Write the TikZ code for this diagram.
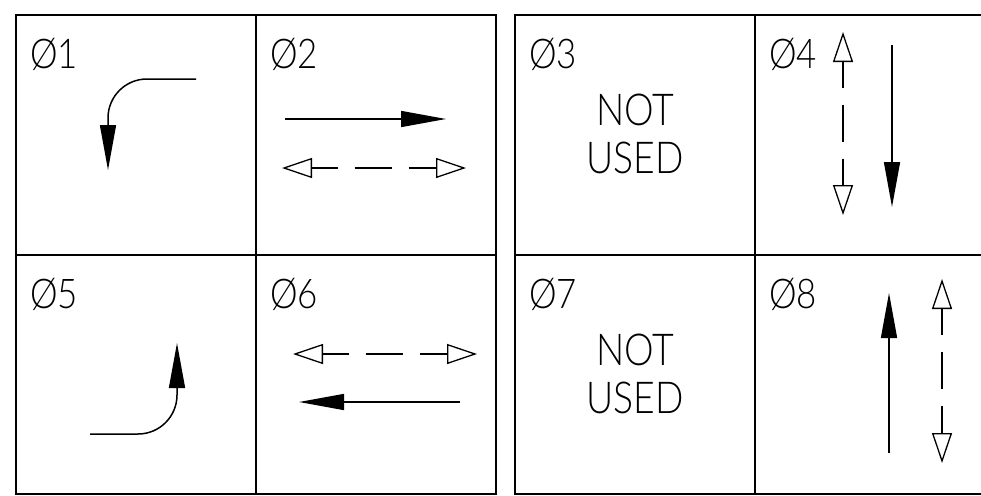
\documentclass[tikz,border=0pt]{standalone}
\usepackage{fontspec}
\IfFontExistsTF{Lato Light}
  {\setmainfont{Lato Light}[FakeStretch=0.85]}
  {\IfFontExistsTF{Fira Sans Light}
    {\setmainfont{Fira Sans Light}[FakeStretch=0.85]}
    {\setmainfont{Liberation Sans}[FakeStretch=0.85]}}
\usepackage{tikz}
\usetikzlibrary{
  arrows.meta,  % Tips "Triangle"
  calc          % Calculations $...$
}
\def\myrad{39pt}
\def\mylabelsize{\fontsize{41}{47}\selectfont}
\def\mynotesize{\fontsize{44}{48}\selectfont}
\tikzset{
  my frame/.style={
    line width=2pt
  },
  my label/.style={
    anchor=base west,
    inner sep=0pt,
    font=\mylabelsize
  },
  my note/.style={
    inner sep=0pt,
    align=center,
    font=\mynotesize
  },
  my solid/.style={
    line width=1.5pt,
    -{Triangle[length=45pt,width=16pt]}
  },
  my turn/.style={
    my solid,
    rounded corners=\myrad
  },
  my dashed/.style={
    line width=1.3pt,
    dash pattern=on 37pt off 17pt,
    dash phase=11pt,
    {Triangle[open,length=30pt,width=20pt]}-{Triangle[open,length=30pt,width=20pt]}
  }
}

\begin{document}
\begin{tikzpicture}[x=1pt,y=-1pt]
\clip (0,0) rectangle (981,495);
% two frames of four phases
\draw[my frame] (16,15) rectangle (496,494)
                (256,15) -- (256,494)
                (16,255) -- (496,255);
\draw[my frame] (515,15) rectangle (1000,494)
                (755,15) -- (755,494)
                (515,255) -- (1000,255);
% phase labels
\node[my label] (p1) at (30,68)   {Ø1};
\node[my label] (p2) at (270,68)  {Ø2};
\node[my label] (p3) at (529,68)  {Ø3};
\node[my label] (p4) at (769,68)  {Ø4};
\node[my label] (p5) at (30,308)  {Ø5};
\node[my label] (p6) at (270,308) {Ø6};
\node[my label] (p7) at (529,308) {Ø7};
\node[my label] (p8) at (769,308) {Ø8};
\node[my note]  (n3) at (635,134) {NOT\\USED};
\node[my note]  (n7) at (635,374) {NOT\\USED};
% movement ends
\coordinate (s1) at (196,79);  \coordinate (e1) at (108,170);
\coordinate (s2) at (285,119); \coordinate (e2) at (446,119);
\coordinate (u2) at (282,168); \coordinate (v2) at (466,168);
\coordinate (u4) at (843,32);  \coordinate (v4) at (843,215);
\coordinate (s4) at (892,45);  \coordinate (e4) at (892,207);
\coordinate (s5) at (90,434);  \coordinate (e5) at (177,343);
\coordinate (u6) at (293,354); \coordinate (v6) at (477,354);
\coordinate (s6) at (460,402); \coordinate (e6) at (299,402);
\coordinate (s8) at (889,453); \coordinate (e8) at (889,293);
\coordinate (u8) at (942,279); \coordinate (v8) at (942,463);
% movements
\draw[my turn]   (s1) -| (e1);
\draw[my solid]  (s2) -- (e2);
\draw[my dashed] (u2) -- (v2);
\draw[my dashed] (u4) -- (v4);
\draw[my solid]  (s4) -- (e4);
\draw[my turn]   (s5) -| (e5);
\draw[my dashed] (u6) -- (v6);
\draw[my solid]  (s6) -- (e6);
\draw[my solid]  (s8) -- (e8);
\draw[my dashed] (u8) -- (v8);
\end{tikzpicture}
\end{document}
